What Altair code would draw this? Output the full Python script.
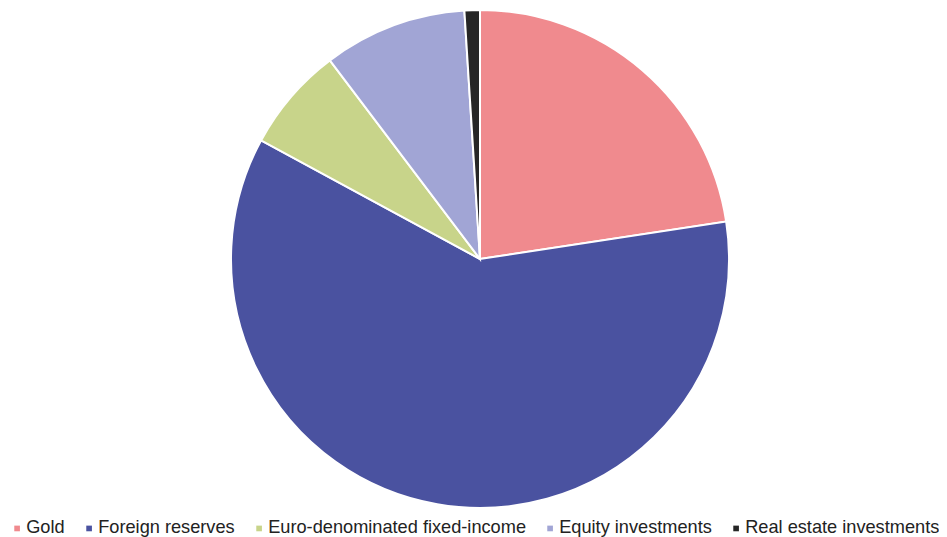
import altair as alt
import pandas as pd

categories = ["Gold", "Foreign reserves", "Euro-denominated fixed-income", "Equity investments", "Real estate investments"]
values = [22.6, 60.3, 6.8, 9.3, 1.0]
colors = ["#F08A8E", "#4A52A0", "#C8D48A", "#A1A5D5", "#262626"]

df = pd.DataFrame({"category": categories, "value": values, "order": list(range(len(categories)))})

chart = alt.Chart(df).mark_arc(radius=249, stroke="white", strokeWidth=2).encode(
    theta=alt.Theta("value:Q", stack=True),
    order=alt.Order("order:Q"),
    color=alt.Color(
        "category:N",
        scale=alt.Scale(domain=categories, range=colors),
        sort=categories,
        legend=alt.Legend(
            title=None,
            orient="none",
            direction="horizontal",
            legendX=0,
            legendY=511,
            symbolType="square",
            symbolSize=32,
            symbolStrokeWidth=0,
            labelFont="Liberation Sans",
            labelFontSize=18.2,
            labelColor="#222222",
            labelOffset=0,
            columnPadding=15,
            labelLimit=400,
        ),
    ),
    x=alt.value(472),
    y=alt.value(251),
).properties(
    width=931,
    height=529,
    autosize=alt.AutoSizeParams(type="none"),
    padding=0,
).configure_view(stroke=None)

chart.save("out.html", embed_options={"renderer": "svg", "actions": False})
